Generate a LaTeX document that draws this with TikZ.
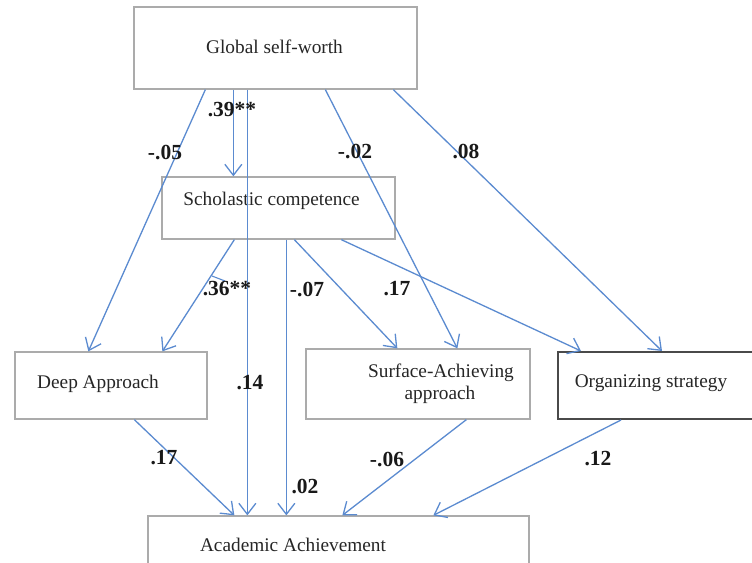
\documentclass[tikz,border=0pt]{standalone}
\usepackage{fontspec}
\setmainfont{Liberation Serif}
\usetikzlibrary{arrows.meta}
\definecolor{arrowblue}{HTML}{5B8BD0}
\definecolor{boxgray}{HTML}{ABABAB}
\definecolor{darkbox}{HTML}{4A4A4A}
\begin{document}
\begin{tikzpicture}[x=1pt,y=-1pt,
  box/.style={draw=boxgray,line width=1.3pt,rectangle,inner sep=0pt},
  darkframe/.style={draw=darkbox,line width=2pt,rectangle,inner sep=0pt},
  boxtext/.style={inner sep=0pt,font=\fontsize{19.3}{22}\selectfont,text=black!85,align=center},
  coef/.style={inner sep=0pt,font=\fontsize{21.5}{24}\selectfont\bfseries,text=black!90},
  link/.style={draw=arrowblue,line width=1.3pt,-{Straight Barb[length=11pt,width=17pt,line width=1.3pt]}}]
\useasboundingbox (0,0) rectangle (752,562);
\clip (0,0) rectangle (752,562);
\fill[white] (0,0) rectangle (752,562);

% boxes
\node[box,minimum width=283pt,minimum height=82pt] (gsw) at (275.5,48) {};
\node[box,minimum width=233pt,minimum height=62pt] (sch) at (278.5,208) {};
\node[box,minimum width=192pt,minimum height=67pt] (deep) at (111,385.5) {};
\node[box,minimum width=224pt,minimum height=70pt] (surf) at (418,384) {};
\node[darkframe,minimum width=212pt,minimum height=67pt] (org) at (664,385.5) {};
\node[box,minimum width=381pt,minimum height=64pt] (acad) at (338.5,548) {};

% box texts
\node[boxtext] (gswt) at (274.5,47) {Global self-worth};
\node[boxtext] (scht) at (271.5,201) {Scholastic competence};
\node[boxtext] (deept) at (98,384) {Deep Approach};
\node[boxtext] (surft1) at (441,373) {Surface-Achieving};
\node[boxtext] (surft2) at (440,395) {approach};
\node[boxtext] (orgt) at (651,383) {Organizing strategy};
\node[boxtext] (acadt) at (293,545) {Academic Achievement};

% connectors
\draw[link] ([xshift=72pt]gsw.south west) -- ([xshift=74pt]deep.north west);
\draw[link] ([xshift=100pt]gsw.south west) -- ([xshift=72pt]sch.north west);
\draw[link] ([xshift=114pt]gsw.south west) -- ([xshift=100pt]acad.north west);
\draw[link] ([xshift=192pt]gsw.south west) -- ([xshift=152pt]surf.north west);
\draw[link] ([xshift=260pt]gsw.south west) -- ([xshift=105pt]org.north west);

\draw[link] ([xshift=73pt]sch.south west) -- ([xshift=148pt]deep.north west);
\draw[link] ([xshift=125pt]sch.south west) -- ([xshift=139pt]acad.north west);
\draw[link] ([xshift=133pt]sch.south west) -- ([xshift=92pt]surf.north west);
\draw[link] ([xshift=180pt]sch.south west) -- ([xshift=24pt]org.north west);

\draw[link] ([xshift=120pt]deep.south west) -- ([xshift=87pt]acad.north west);
\draw[link] ([xshift=161pt]surf.south west) -- ([xshift=195pt]acad.north west);
\draw[link] ([xshift=64pt]org.south west) -- ([xshift=286pt]acad.north west);

% small tick near .36**
\draw[arrowblue,line width=1.1pt] (212,276) -- (225,281);

% coefficients
\node[coef] (c1) at (232,110) {.39**};
\node[coef] (c2) at (165,153) {-.05};
\node[coef] (c3) at (355,152) {-.02};
\node[coef] (c4) at (466,152) {.08};
\node[coef] (c5) at (227,289) {.36**};
\node[coef] (c6) at (307,289) {-.07};
\node[coef] (c7) at (397,289) {.17};
\node[coef] (c8) at (250,383) {.14};
\node[coef] (c9) at (164,458) {.17};
\node[coef] (c10) at (305,486) {.02};
\node[coef] (c11) at (387,459) {-.06};
\node[coef] (c12) at (598,459) {.12};
\end{tikzpicture}
\end{document}
